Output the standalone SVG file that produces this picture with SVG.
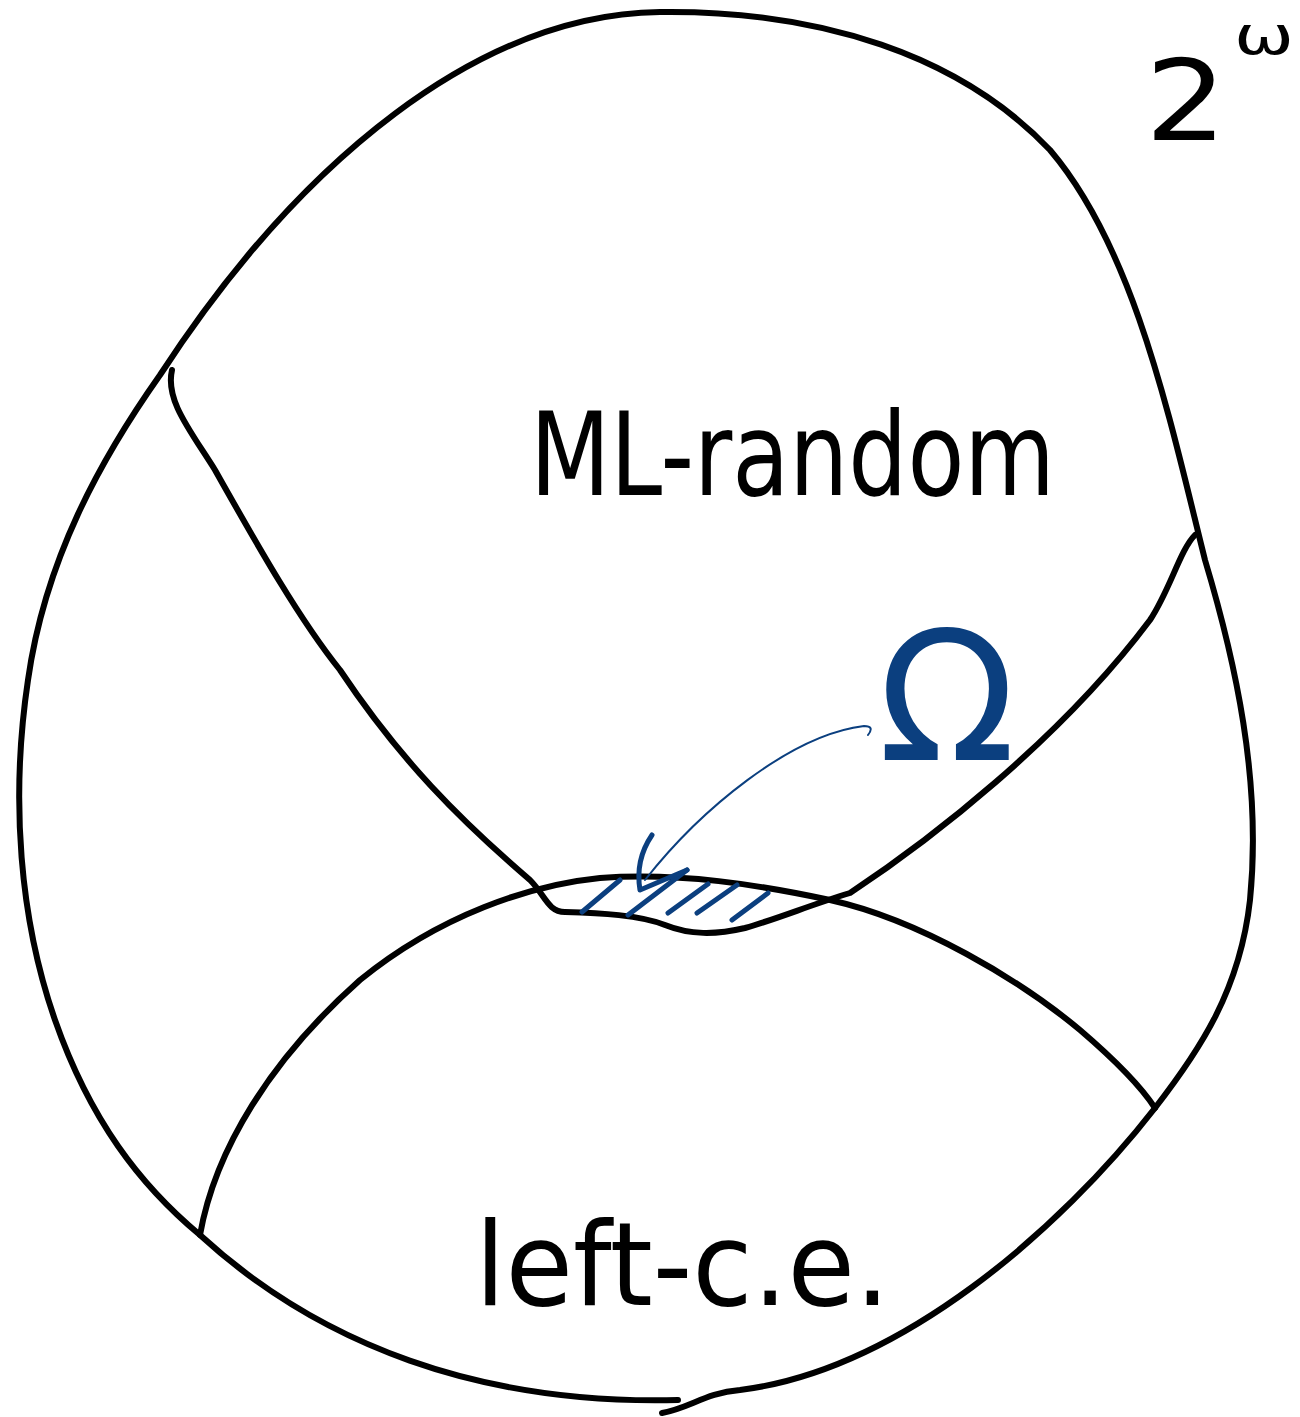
<svg xmlns="http://www.w3.org/2000/svg" width="1300" height="1417" viewBox="0 0 1300 1417">
<style>
.ink{fill:none;stroke:#000;stroke-width:6;stroke-linecap:round;stroke-linejoin:round}
.blue{fill:none;stroke:#0b3f7f;stroke-linecap:round;stroke-linejoin:round}
.hand{font-family:"DejaVu Sans","Liberation Sans",sans-serif;fill:#000}
</style>
<rect width="1300" height="1417" fill="#fff"/>
<g id="outer">
<path class="ink" d="M 662,1413 C 690,1408 705,1393 740,1390 C 900,1370 1060,1230 1155,1108 C 1200,1050 1240,990 1250,900 C 1262,780 1235,660 1205,560 C 1170,420 1135,250 1050,150 C 960,55 820,10 660,12 C 480,14 300,160 160,375 C 100,460 45,560 28,680 C 10,800 20,920 55,1020 C 90,1120 140,1185 200,1235 C 320,1345 480,1405 678,1400"/>
</g>
<g id="ml-random">
<path class="ink" d="M 172,370 C 165,400 190,430 215,470 C 260,550 300,620 340,670 C 400,760 460,820 530,880 C 545,895 548,912 565,912 C 600,913 640,915 665,925 C 690,935 715,935 745,928 C 780,918 810,905 850,893 C 930,840 1060,740 1150,620 C 1170,590 1180,550 1195,535"/>
<text class="hand" x="530" y="495" font-size="115" textLength="525" lengthAdjust="spacingAndGlyphs">ML-random</text>
</g>
<g id="left-ce">
<path class="ink" d="M 200,1235 C 215,1150 270,1060 360,980 C 440,915 530,885 600,878 C 680,872 760,885 830,900 C 920,920 1020,980 1080,1030 C 1115,1060 1140,1085 1155,1108"/>
<text class="hand" x="475" y="1305" font-size="115" textLength="415" lengthAdjust="spacingAndGlyphs">left-c.e.</text>
</g>
<g id="omega-label">
<text x="878" y="760" font-family="DejaVu Sans,sans-serif" font-size="180" fill="#0b3f7f">Ω</text>
</g>
<g id="hatch">
<path class="blue" stroke-width="5" d="M 582,912 L 620,880 M 628,915 L 687,870 M 668,913 L 708,884 M 697,913 L 737,885 M 732,920 L 768,893"/>
</g>
<g id="connectors">
<path class="blue" stroke-width="2" d="M 868,735 Q 875,726 864,726 C 790,735 700,810 645,880"/>
<path class="blue" stroke-width="5" d="M 652,835 Q 635,860 640,890 L 687,870"/>
</g>
<g id="title">
<text class="hand" x="1145" y="140" font-size="112" textLength="82" lengthAdjust="spacingAndGlyphs">2</text>
<text class="hand" x="1234" y="54" font-size="54" textLength="60" lengthAdjust="spacingAndGlyphs">ω</text>
</g>
</svg>
